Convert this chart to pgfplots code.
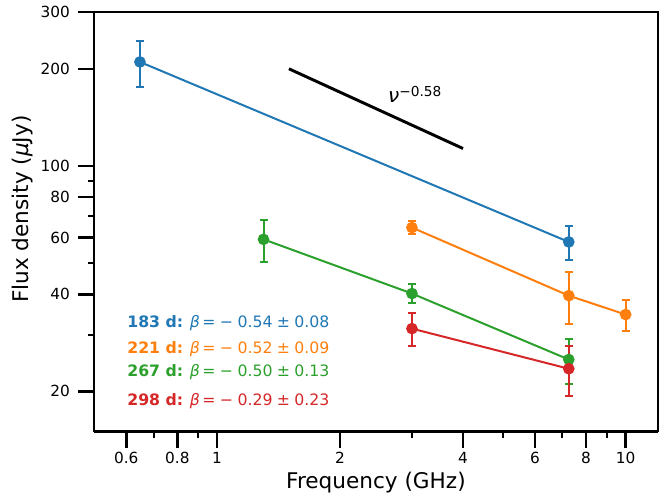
\documentclass[border=0pt]{standalone}
\usepackage{fontspec}
\setmainfont{DejaVu Sans}
\usepackage{pgfplots}
\pgfplotsset{compat=1.18}
\definecolor{tabblue}{HTML}{1F77B4}
\definecolor{taborange}{HTML}{FF7F0E}
\definecolor{tabgreen}{HTML}{2CA02C}
\definecolor{tabred}{HTML}{D62728}
\pgfplotsset{
  sed/.style={line width=1.5pt, mark=*, mark size=3.6pt,
    error bars/y dir=both, error bars/y explicit,
    error bars/error mark=|,
    error bars/error bar style={line width=1.5pt},
    error bars/error mark options={line width=1.5pt, mark size=3pt}},
}
\begin{document}
\begin{tikzpicture}
\begin{axis}[
  name=ax, at={(0,0)}, anchor=south west,
  scale only axis, width=423.4pt, height=315pt,
  xmode=log, ymode=log,
  xmin=0.5, xmax=12, ymin=15, ymax=300,
  axis x line*=bottom, axis y line*=left,
  axis line style={line width=1.9pt, -},
  tick align=outside,
  xtick={0.6,0.8,1,2,4,6,8,10},
  xticklabels={0.6,0.8,1,2,4,6,8,10},
  minor xtick={0.7,0.9,3,5,7,9},
  ytick={20,40,60,80,100,200,300},
  yticklabels={20,40,60,80,100,200,300},
  minor ytick={30,50,70,90},
  major tick length=12pt, minor tick length=4.5pt,
  every major tick/.style={line width=1.9pt, black},
  every minor tick/.style={line width=1.5pt, black},
  tick label style={font=\fontsize{11.5}{13}\selectfont},
  yticklabel style={xshift=-2.5pt},
  /pgf/number format/assume math mode=true,
  xlabel={Frequency (GHz)},
  ylabel={Flux density (\textit{μ}Jy)},
  label style={font=\fontsize{16.2}{19}\selectfont},
  xlabel style={at={(axis description cs:0.5,-0.0952)}, anchor=north, inner sep=0pt},
  ylabel style={at={(axis description cs:-0.1454,0.53)}, anchor=north, inner sep=0pt},
  clip=false,
]
\draw[line width=1.1pt] (rel axis cs:0,1) -- (rel axis cs:1,1) -- (rel axis cs:1,0);

% reference power law nu^-0.58
\addplot[black, line width=2.2pt] coordinates {(1.5,200) (4,113.2)};

% 183 d
\addplot[color=tabblue, sed] coordinates {
  (0.648,210) +- (0,34)
  (7.26,58.1) +- (0,7)
};
% 221 d
\addplot[color=taborange, sed] coordinates {
  (3.0,64.4) +- (0,3)
  (7.26,39.6) +- (0,7.2)
  (10,34.6) +- (0,3.8)
};
% 267 d
\addplot[color=tabgreen, sed] coordinates {
  (1.3,59.2) +- (0,9)
  (3.0,40.2) +- (0,2.7)
  (7.26,25.1) +- (0,4)
};
% 298 d
\addplot[color=tabred, sed] coordinates {
  (3.0,31.3) +- (0,3.7)
  (7.26,23.5) +- (0,4.1)
};

\node[anchor=base west, inner sep=0pt, font=\fontsize{15}{18}\selectfont]
  at (axis cs:2.62,157) {\textit{ν}\raisebox{4.5pt}{\fontsize{10.3}{12}\selectfont −0.58}};

\begin{scope}[every node/.style={anchor=base west, inner sep=0pt, font=\fontsize{11.8}{14}\selectfont}]
\node[text=tabblue] at (axis cs:0.6026,31.5) {\textbf{183 d:} \textit{β}\,=\;−\;0.54\;±\;0.08};
\node[text=taborange] at (axis cs:0.6026,26.2) {\textbf{221 d:} \textit{β}\,=\;−\;0.52\;±\;0.09};
\node[text=tabgreen] at (axis cs:0.6026,22.2) {\textbf{267 d:} \textit{β}\,=\;−\;0.50\;±\;0.13};
\node[text=tabred] at (axis cs:0.6026,18.05) {\textbf{298 d:} \textit{β}\,=\;−\;0.29\;±\;0.23};
\end{scope}
\end{axis}
\pgfresetboundingbox
\useasboundingbox (-70.5pt,-47.25pt) rectangle (430.9pt,324pt);
\end{tikzpicture}
\end{document}
